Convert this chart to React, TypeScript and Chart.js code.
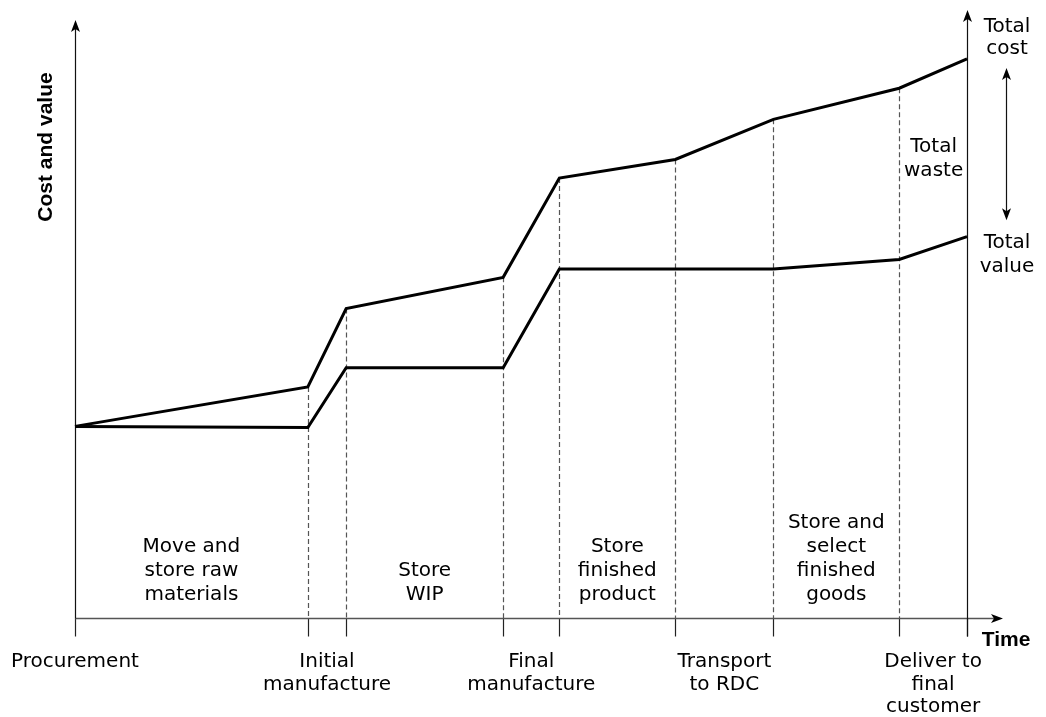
import React, { useEffect, useRef } from "react";
import { Chart, registerables } from "chart.js";

Chart.register(...registerables);

// ---- data (time axis 0..100, cost/value axis 0..100) ----
const eventTimes = [0, 26.1, 30.4, 48.0, 54.3, 67.3, 78.3, 92.4, 100];
const totalCost = [32.1, 38.7, 51.8, 57.0, 73.6, 76.7, 83.4, 88.6, 93.5];
const totalValue = [32.1, 31.9, 41.9, 41.9, 58.4, 58.4, 58.4, 60.0, 63.8];

const seriesNames = ["Total cost", "Total value"];

const milestoneLabels = [
  ["Procurement"],
  ["Initial", "manufacture"],
  ["Final", "manufacture"],
  ["Transport", "to RDC"],
  ["Deliver to", "final", "customer"],
];
const milestoneSpans = [
  [0, 0],
  [1, 2],
  [3, 4],
  [5, 6],
  [7, 8],
];

const activityLabels = [
  ["Move and", "store raw", "materials"],
  ["Store", "WIP"],
  ["Store", "finished", "product"],
  ["Store and", "select", "finished", "goods"],
];
const activitySpans = [
  [0, 1],
  [2, 3],
  [4, 5],
  [6, 7],
];

const costEndLabel = ["Total", "cost"];
const valueEndLabel = ["Total", "value"];
const gapLabel = ["Total", "waste"];
const xAxisTitle = "Time";
const yAxisTitle = "Cost and value";

const REG_FONT = '20px "DejaVu Sans", sans-serif';
const BOLD_FONT = 'bold 21px "Liberation Sans", Arial, sans-serif';
const TEXT = "#000";

function arrowHead(ctx: CanvasRenderingContext2D, x: number, y: number, angle: number, len = 12, half = 4.5) {
  ctx.save();
  ctx.translate(x, y);
  ctx.rotate(angle);
  ctx.beginPath();
  ctx.moveTo(0, 0);
  ctx.lineTo(-len, -half);
  ctx.lineTo(-len * 0.75, 0);
  ctx.lineTo(-len, half);
  ctx.closePath();
  ctx.fill();
  ctx.restore();
}

const diagramPlugin = {
  id: "diagram",
  beforeDatasetsDraw(chart: any) {
    const ctx: CanvasRenderingContext2D = chart.ctx;
    const xs = chart.scales.x;
    const ys = chart.scales.y;
    const { left, right, top, bottom } = chart.chartArea;
    ctx.save();

    // dashed verticals from cost line down to the axis
    ctx.strokeStyle = "#555";
    ctx.lineWidth = 1.2;
    ctx.setLineDash([5, 3]);
    for (let i = 1; i < eventTimes.length - 1; i++) {
      const x = Math.round(xs.getPixelForValue(eventTimes[i])) + 0.5;
      ctx.beginPath();
      ctx.moveTo(x, ys.getPixelForValue(totalCost[i]));
      ctx.lineTo(x, bottom);
      ctx.stroke();
    }
    ctx.setLineDash([]);

    // ticks below the axis
    ctx.strokeStyle = "#222";
    ctx.lineWidth = 1.2;
    for (let i = 0; i < eventTimes.length; i++) {
      const x = Math.round(xs.getPixelForValue(eventTimes[i])) + 0.5;
      ctx.beginPath();
      ctx.moveTo(x, bottom);
      ctx.lineTo(x, bottom + 18);
      ctx.stroke();
    }

    // x axis
    const tipX = right + 36;
    ctx.strokeStyle = "#555";
    ctx.lineWidth = 1.6;
    ctx.beginPath();
    ctx.moveTo(left, bottom);
    ctx.lineTo(tipX - 6, bottom);
    ctx.stroke();
    ctx.fillStyle = "#000";
    arrowHead(ctx, tipX, bottom, 0);

    // left axis
    const lx = Math.round(left) + 0.5;
    ctx.strokeStyle = "#111";
    ctx.lineWidth = 1.2;
    ctx.beginPath();
    ctx.moveTo(lx, bottom);
    ctx.lineTo(lx, top + 6);
    ctx.stroke();
    arrowHead(ctx, lx, top, -Math.PI / 2);

    // right axis
    const rx = Math.round(xs.getPixelForValue(100)) + 0.5;
    ctx.beginPath();
    ctx.moveTo(rx, bottom + 18);
    ctx.lineTo(rx, top - 4);
    ctx.stroke();
    arrowHead(ctx, rx, top - 10, -Math.PI / 2);

    ctx.restore();
  },
  afterDatasetsDraw(chart: any) {
    const ctx: CanvasRenderingContext2D = chart.ctx;
    const xs = chart.scales.x;
    const ys = chart.scales.y;
    const { top, bottom } = chart.chartArea;
    ctx.save();
    ctx.fillStyle = TEXT;
    ctx.font = REG_FONT;
    ctx.textAlign = "center";
    ctx.textBaseline = "alphabetic";

    // milestone labels under the axis
    milestoneLabels.forEach((lines, i) => {
      const [a, b] = milestoneSpans[i];
      const cx = (xs.getPixelForValue(eventTimes[a]) + xs.getPixelForValue(eventTimes[b])) / 2;
      lines.forEach((t, j) => ctx.fillText(t, cx, bottom + 48.5 + j * 22.5));
    });

    // activity labels above the axis
    activityLabels.forEach((lines, i) => {
      const [a, b] = activitySpans[i];
      const cx = (xs.getPixelForValue(eventTimes[a]) + xs.getPixelForValue(eventTimes[b])) / 2;
      const n = lines.length;
      lines.forEach((t, j) => ctx.fillText(t, cx, bottom - 18.5 - (n - 1 - j) * 24));
    });

    const last = eventTimes.length - 1;
    const endX = xs.getPixelForValue(eventTimes[last]);
    const costEndY = ys.getPixelForValue(totalCost[last]);
    const valueEndY = ys.getPixelForValue(totalValue[last]);
    const labelX = endX + 40;

    costEndLabel.forEach((t, j) => ctx.fillText(t, labelX, costEndY - 27 + j * 22.5));
    valueEndLabel.forEach((t, j) => ctx.fillText(t, labelX, valueEndY + 11.5 + j * 23.5));

    const gx = (xs.getPixelForValue(eventTimes[last - 1]) + endX) / 2 + 0.5;
    const gy = ys.getPixelForValue(totalCost[last - 1]);
    gapLabel.forEach((t, j) => ctx.fillText(t, gx, gy + 63.5 + j * 24));

    // double arrow for total waste
    const ax = endX + 39.5;
    const ay1 = costEndY + 9;
    const ay2 = valueEndY - 16.5;
    ctx.strokeStyle = "#111";
    ctx.lineWidth = 1.2;
    ctx.beginPath();
    ctx.moveTo(ax, ay1 + 6);
    ctx.lineTo(ax, ay2 - 6);
    ctx.stroke();
    arrowHead(ctx, ax, ay1, -Math.PI / 2);
    arrowHead(ctx, ax, ay2, Math.PI / 2);

    // axis titles
    ctx.font = BOLD_FONT;
    ctx.fillText(xAxisTitle, endX + 39, bottom + 27.5);
    ctx.save();
    ctx.translate(51.5, top + 127);
    ctx.rotate(-Math.PI / 2);
    ctx.fillText(yAxisTitle, 0, 0);
    ctx.restore();

    ctx.restore();
  },
};

export default function App() {
  const canvasRef = useRef<HTMLCanvasElement | null>(null);

  useEffect(() => {
    const canvas = canvasRef.current;
    if (!canvas) return;
    const toPoints = (ys: number[]) => eventTimes.map((x, i) => ({ x, y: ys[i] }));
    const chart = new Chart(canvas, {
      type: "line",
      data: {
        datasets: [
          {
            label: seriesNames[0],
            data: toPoints(totalCost),
            borderColor: "#000",
            borderWidth: 3,
            pointRadius: 0,
            tension: 0,
            fill: false,
            clip: false as any,
            borderJoinStyle: "miter",
          },
          {
            label: seriesNames[1],
            data: toPoints(totalValue),
            borderColor: "#000",
            borderWidth: 3,
            pointRadius: 0,
            tension: 0,
            fill: false,
            clip: false as any,
            borderJoinStyle: "miter",
          },
        ],
      },
      options: {
        responsive: false,
        animation: false,
        devicePixelRatio: 1,
        layout: { padding: { left: 75, right: 79, top: 20, bottom: 98.5 } },
        plugins: { legend: { display: false }, tooltip: { enabled: false }, title: { display: false } },
        events: [],
        scales: {
          x: { type: "linear", min: 0, max: 100, display: false },
          y: { type: "linear", min: 0, max: 100, display: false },
        },
      },
      plugins: [diagramPlugin],
    });
    return () => chart.destroy();
  }, []);

  return (
    <div style={{ position: "fixed", left: 0, top: 0, width: 1046, height: 717, background: "#fff" }}>
      <canvas ref={canvasRef} width={1046} height={717} style={{ width: 1046, height: 717, display: "block" }} />
    </div>
  );
}
